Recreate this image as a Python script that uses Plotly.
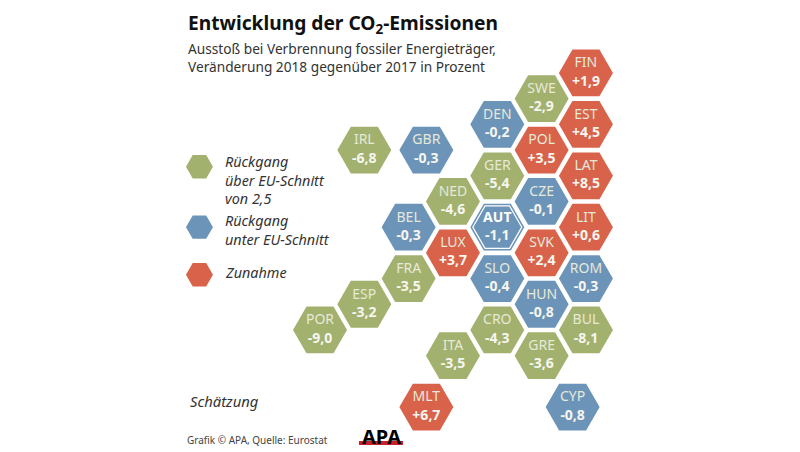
import plotly.graph_objects as go

FONT = "Noto Sans"
GREEN, BLUE, RED = "#a3b16f", "#6c94b8", "#d9624a"

countries = ["FIN","SWE","EST","DEN","POL","LAT","IRL","GBR","GER","NED","CZE","AUT","LIT","BEL","LUX","SVK",
             "SLO","ROM","FRA","ESP","HUN","POR","CRO","BUL","ITA","GRE","MLT","CYP"]
values = ["+1,9","-2,9","+4,5","-0,2","+3,5","+8,5","-6,8","-0,3","-5,4","-4,6","-0,1","-1,1","+0,6","-0,3","+3,7","+2,4",
          "-0,4","-0,3","-3,5","-3,2","-0,8","-9,0","-4,3","-8,1","-3,5","-3,6","+6,7","-0,8"]
groups = ["r","g","r","b","r","r","g","b","g","g","b","b","r","b","r","r",
          "b","b","g","g","b","g","g","g","g","g","r","b"]
# map grid: column and half-row of each hexagon
cols = [6,5,6,4,5,6,1,2.4,4,3,5,4,6,2,3,5,4,6,2,1,5,0,4,6,3,5,2.4,5.7]
rows = [0,1,2,2,3,4,3,3,4,5,5,6,6,6,7,7,8,8,8,9,9,10,10,10,11,11,13,13]

legend_labels = ["<i>Rückgang<br>über EU-Schnitt<br>von 2,5</i>", "<i>Rückgang<br>unter EU-Schnitt</i>", "<i>Zunahme</i>"]
legend_cols = [-2.72, -2.72, -2.72]
legend_rows = [3.65, 6.0, 7.85]

color_map = {"g": GREEN, "b": BLUE, "r": RED}

fig = go.Figure()
fig.add_trace(go.Scatter(
    x=cols, y=rows, mode="markers+text",
    marker=dict(symbol="hexagon2", size=54, color=[color_map[g] for g in groups], line=dict(width=0)),
    text=[f"<span style='color:{'#ffffff' if c == 'AUT' else '#e6e9d8'}'>{'<b>' + c + '</b>' if c == 'AUT' else c}</span><br><b>{v}</b>"
          for c, v in zip(countries, values)],
    textposition="middle center",
    textfont=dict(family=FONT, size=14, color="#f6f6f0"),
    hoverinfo="skip", showlegend=False,
))
i = countries.index("AUT")
fig.add_trace(go.Scatter(
    x=[cols[i]], y=[rows[i]], mode="markers",
    marker=dict(symbol="hexagon2-open", size=49, color="white", line=dict(width=1.2, color="white")),
    hoverinfo="skip", showlegend=False,
))
fig.add_trace(go.Scatter(
    x=legend_cols, y=legend_rows, mode="markers",
    marker=dict(symbol="hexagon2", size=27, color=[GREEN, BLUE, RED], line=dict(width=0)),
    hoverinfo="skip", showlegend=False,
))

def txt(x, y, s, size, color="#2b2b2b", ax="left", ay="top"):
    fig.add_annotation(xref="paper", yref="paper", x=x/800, y=1-y/452, text=s, showarrow=False,
                       xanchor=ax, yanchor=ay, align=ax, font=dict(family=FONT, size=size, color=color),
                       borderpad=0, borderwidth=0)

txt(188, 9, "<b>Entwicklung der CO<sub>2</sub>-Emissionen</b>", 19.2, "#111111")
txt(188, 39, "Ausstoß bei Verbrennung fossiler Energieträger,<br>Veränderung 2018 gegenüber 2017 in Prozent", 13.7, "#333333")
txt(225, 152, legend_labels[0], 14.4, "#333333")
txt(225, 211, legend_labels[1], 14.4, "#333333")
txt(225, 263, legend_labels[2], 14.4, "#333333")
txt(190, 391, "<i>Schätzung</i>", 14.8, "#333333")
txt(187, 433, "Grafik © APA, Quelle: Eurostat", 10, "#444444")
txt(381, 423, "<b>APA</b>", 20, "#000000", ax="center")
fig.add_shape(type="rect", xref="paper", yref="paper", x0=359/800, x1=403/800, y0=1-445/452, y1=1-441/452,
              fillcolor="#c8202c", line=dict(width=0))

fig.update_layout(
    width=800, height=452, margin=dict(l=0, r=0, t=0, b=0),
    paper_bgcolor="white", plot_bgcolor="white",
    xaxis=dict(range=[-7.22, 10.83], visible=False, fixedrange=True),
    yaxis=dict(range=[14.75, -2.84], visible=False, fixedrange=True),
)
fig.write_html("out.html", config={"displayModeBar": False},
               post_script="document.body.style.margin='0';document.documentElement.style.overflow='hidden';")
